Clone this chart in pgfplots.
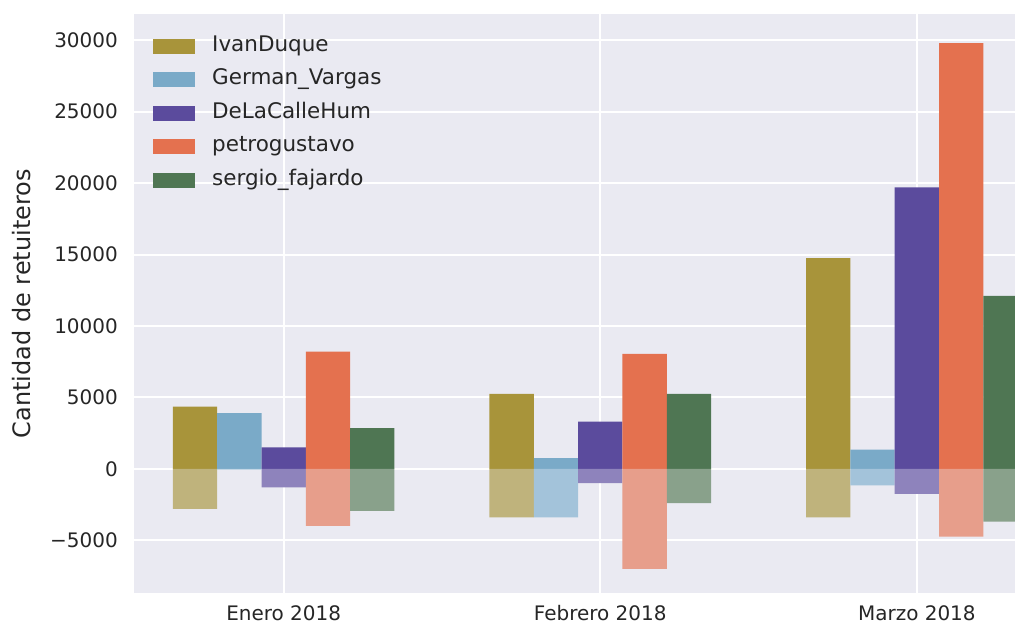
\documentclass[border=0pt]{standalone}
\usepackage{fontspec}
\setmainfont{DejaVu Sans}
\usepackage{pgfplots}
\pgfplotsset{compat=1.18}
\definecolor{bg}{HTML}{EAEAF2}
\definecolor{txt}{HTML}{262626}
\definecolor{cIvan}{HTML}{A8943A}
\definecolor{cIvanN}{HTML}{BFB37C}
\definecolor{cGerm}{HTML}{7AAAC8}
\definecolor{cGermN}{HTML}{A3C3DA}
\definecolor{cDela}{HTML}{5B4B9D}
\definecolor{cDelaN}{HTML}{8E83BC}
\definecolor{cPetr}{HTML}{E4714F}
\definecolor{cPetrN}{HTML}{E79E8B}
\definecolor{cSerg}{HTML}{4F7653}
\definecolor{cSergN}{HTML}{89A18B}
\begin{document}
\begin{tikzpicture}
\path[use as bounding box] (-67pt,-18pt) rectangle (441pt,297pt);
\begin{axis}[
  at={(0,0)}, anchor=south west,
  scale only axis, width=441pt, height=290pt,
  xmin=-0.4732, xmax=2.31, ymin=-8720, ymax=31840,
  axis background/.style={fill=bg},
  axis line style={draw=none},
  grid=major, major grid style={white, line width=1pt},
  xtick={0,1,2}, xticklabels={Enero 2018, Febrero 2018, Marzo 2018},
  ytick={-5000,0,5000,10000,15000,20000,25000,30000},
  yticklabels={−5000,0,5000,10000,15000,20000,25000,30000},
  major tick length=0pt,
  tick label style={font=\fontsize{10}{12}\selectfont, text=txt},
  xticklabel style={yshift=-2.5pt, text height=7.4pt, text depth=0pt},
  yticklabel style={xshift=-4.5pt},
  ylabel={Cantidad de retuiteros},
  every axis y label/.style={at={(rel axis cs:0,0.5)}, xshift=-56pt, rotate=90, anchor=center, font=\fontsize{12}{14}\selectfont, text=txt},
  legend style={at={(rel axis cs:0,1)}, anchor=north west, xshift=9.5pt, yshift=-11pt,
    draw=none, fill=none, inner sep=0pt, font=\fontsize{10.75}{12}\selectfont, text=txt,
    row sep=6.75pt, nodes={inner sep=0pt, text height=7.5pt, text depth=2.5pt},
    /tikz/every odd column/.append style={column sep=8.5pt}},
  legend cell align=left,
  legend image code/.code={\fill[#1] (0pt,-3.75pt) rectangle (21pt,3.75pt);},
]
\addplot[ybar, bar width=0.14, bar shift=-0.28, fill=cIvan, draw=none] coordinates {(0,4350) (1,5250) (2,14750)};
\addlegendentry{IvanDuque}
\addplot[ybar, bar width=0.14, bar shift=-0.28, fill=cIvanN, draw=none, forget plot] coordinates {(0,-2800) (1,-3400) (2,-3400)};
\addplot[ybar, bar width=0.14, bar shift=-0.14, fill=cGerm, draw=none] coordinates {(0,3900) (1,750) (2,1350)};
\addlegendentry{German\_Vargas}
\addplot[ybar, bar width=0.14, bar shift=-0.14, fill=cGermN, draw=none, forget plot] coordinates {(0,-50) (1,-3400) (2,-1150)};
\addplot[ybar, bar width=0.14, bar shift=0, fill=cDela, draw=none] coordinates {(0,1500) (1,3300) (2,19700)};
\addlegendentry{DeLaCalleHum}
\addplot[ybar, bar width=0.14, bar shift=0, fill=cDelaN, draw=none, forget plot] coordinates {(0,-1300) (1,-1000) (2,-1750)};
\addplot[ybar, bar width=0.14, bar shift=0.14, fill=cPetr, draw=none] coordinates {(0,8200) (1,8050) (2,29800)};
\addlegendentry{petrogustavo}
\addplot[ybar, bar width=0.14, bar shift=0.14, fill=cPetrN, draw=none, forget plot] coordinates {(0,-4000) (1,-7000) (2,-4750)};
\addplot[ybar, bar width=0.14, bar shift=0.28, fill=cSerg, draw=none] coordinates {(0,2850) (1,5250) (2,12100)};
\addlegendentry{sergio\_fajardo}
\addplot[ybar, bar width=0.14, bar shift=0.28, fill=cSergN, draw=none, forget plot] coordinates {(0,-2950) (1,-2400) (2,-3700)};
\end{axis}
\end{tikzpicture}
\end{document}
